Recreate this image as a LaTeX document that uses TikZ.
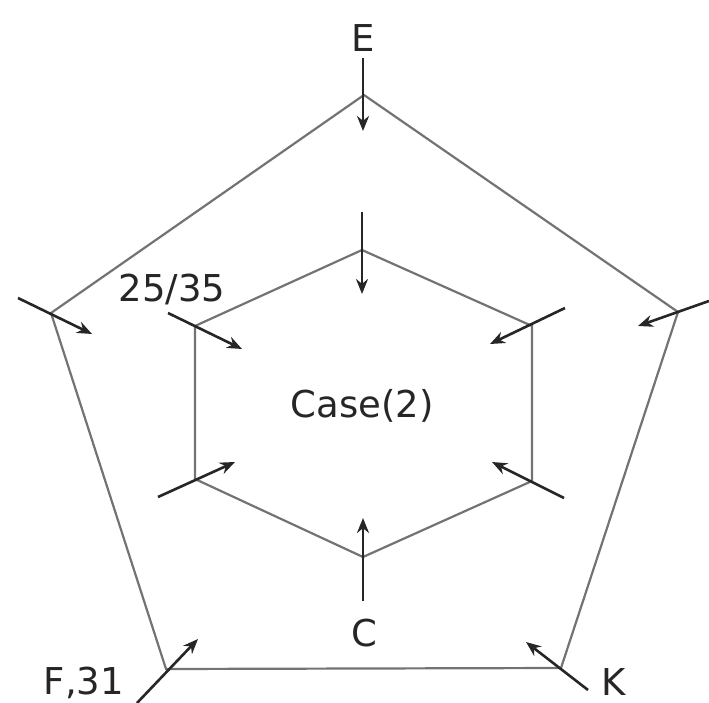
\documentclass[tikz,border=0pt]{standalone}
\usepackage{fontspec}
\setmainfont{DejaVu Sans}
\usetikzlibrary{arrows.meta}
\begin{document}
\begin{tikzpicture}[x=1pt,y=-1pt,
  frame/.style={draw=black!55,line width=2.2pt,line join=miter},
  arr/.style={draw=black!85,line width=2.6pt,-{Stealth[length=15pt,width=12pt]}},
  lbl/.style={font=\fontsize{37}{40}\selectfont,text=black!85,inner sep=0pt}]
\useasboundingbox (0,0) rectangle (709,703);
% pentagon
\coordinate (P1) at (364,95);
\coordinate (P2) at (678,312);
\coordinate (P3) at (561,668);
\coordinate (P4) at (166,669);
\coordinate (P5) at (51,313);
\draw[frame] (P1)--(P2)--(P3)--(P4)--(P5)--cycle;
% hexagon
\coordinate (H1) at (362,250);
\coordinate (H2) at (532,326);
\coordinate (H3) at (532,481);
\coordinate (H4) at (363,557);
\coordinate (H5) at (195,479);
\coordinate (H6) at (195,326);
\draw[frame] (H1)--(H2)--(H3)--(H4)--(H5)--(H6)--cycle;
% arrow ends
\coordinate (aE1) at (363,58);   \coordinate (aE2) at (363,131);
\coordinate (aT1) at (362,212);  \coordinate (aT2) at (362,294);
\coordinate (aL1) at (18,298);   \coordinate (aL2) at (92,334);
\coordinate (aA1) at (168,313);  \coordinate (aA2) at (242,349);
\coordinate (aB1) at (565,308);  \coordinate (aB2) at (490,344);
\coordinate (aR1) at (709,301);  \coordinate (aR2) at (638,326);
\coordinate (aC1) at (158,497);  \coordinate (aC2) at (235,462);
\coordinate (aD1) at (564,498);  \coordinate (aD2) at (492,462);
\coordinate (aG1) at (363,601);  \coordinate (aG2) at (363,518);
\coordinate (aF1) at (137,703);  \coordinate (aF2) at (198,639);
\coordinate (aK1) at (588,690);  \coordinate (aK2) at (526,642);
\foreach \a in {E,T,L,A,B,R,C,D,G,F,K}{\draw[arr] (a\a1)--(a\a2);}
% labels
\node[lbl] (lE) at (363,38) {E};
\node[lbl] (l25) at (172,289) {25/35};
\node[lbl] (lcase) at (362,406) {Case(2)};
\node[lbl] (lC) at (364,633) {C};
\node[lbl] (lF) at (84,683) {F,31};
\node[lbl] (lK) at (614,682) {K};
\end{tikzpicture}
\end{document}
